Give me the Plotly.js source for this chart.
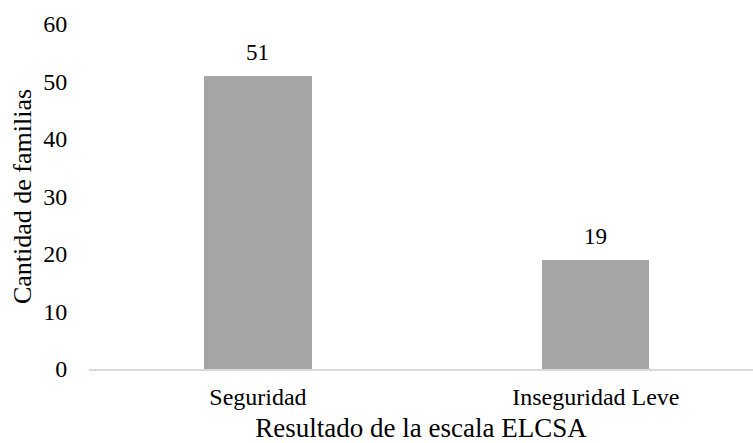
<!DOCTYPE html>
<html>
<head>
<meta charset="utf-8">
<script src="https://cdn.plot.ly/plotly-3.0.1.min.js"></script>
<style>html,body{margin:0;padding:0;background:#fff;}#chart{width:753px;height:443px;}</style>
</head>
<body>
<div id="chart"></div>
<script>
const categories = ["Seguridad", "Inseguridad Leve"];
const values = [51, 19];
const yTicks = [0, 10, 20, 30, 40, 50, 60];

const font = "'Liberation Serif', 'Times New Roman', serif";

const trace = {
  type: "bar",
  x: categories,
  y: values,
  width: 0.317,
  marker: { color: "#a5a5a5" },
  hoverinfo: "none"
};

const annotations = categories.map((c, i) => ({
  x: c, y: values[i], text: String(values[i]),
  xref: "x", yref: "y", showarrow: false,
  yanchor: "bottom", yshift: 9,
  font: { family: font, size: 23, color: "#000" }
}));

const layout = {
  width: 753, height: 443,
  margin: { l: 89, r: 0, t: 24, b: 74 },
  paper_bgcolor: "#fff", plot_bgcolor: "#fff",
  showlegend: false,
  bargap: 0,
  xaxis: {
    type: "category",
    range: [-0.5, 1.465],
    showline: true, linecolor: "#d9d9d9", linewidth: 1.5,
    showgrid: false, zeroline: false,
    ticks: "outside", ticklen: 6, tickcolor: "rgba(0,0,0,0)",
    tickfont: { family: font, size: 24, color: "#000" },
    title: { text: "Resultado de la escala ELCSA", font: { family: font, size: 27, color: "#000" }, standoff: 12 },
    automargin: false
  },
  yaxis: {
    range: [0, 60],
    tickvals: yTicks,
    showline: false, showgrid: false, zeroline: false,
    ticks: "outside", ticklen: 16, tickcolor: "rgba(0,0,0,0)",
    tickfont: { family: font, size: 24, color: "#000" },
    title: { text: "Cantidad de familias", font: { family: font, size: 26, color: "#000" }, standoff: 4 },
    automargin: false
  },
  annotations: annotations
};

Plotly.newPlot("chart", [trace], layout, { displayModeBar: false, staticPlot: true });
</script>
</body>
</html>
